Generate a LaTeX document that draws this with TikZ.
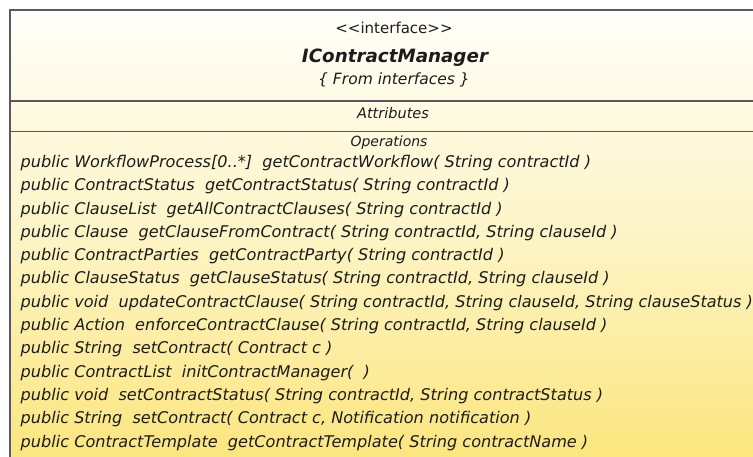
\documentclass[tikz,border=0pt]{standalone}
\usepackage{fontspec}
\setmainfont{DejaVu Sans}
\definecolor{boxtop}{HTML}{FFFEFA}
\definecolor{boxmid}{HTML}{FDF4C4}
\definecolor{boxbot}{HTML}{FBE57A}
\definecolor{rule}{HTML}{5A5A5A}
\definecolor{ink}{HTML}{1C1C1C}
\begin{document}
\begin{tikzpicture}[x=1pt,y=-1pt,
  frame/.style={draw=rule,line width=1.1pt},
  optext/.style={anchor=base west,inner sep=0pt,text=ink,font=\fontsize{16.1}{17}\selectfont\itshape},
  headtext/.style={anchor=base,inner sep=0pt,text=ink}]
\useasboundingbox (0,0) rectangle (753,457);
\clip (0,0) rectangle (753,457);
% class box with its gradient fill
\shade[top color=boxtop, bottom color=boxbot, middle color=boxmid] (10,10) rectangle (790,470);
\draw[frame] (10,475) -- (10,10) -- (790,10);
\draw[frame] (10,101) -- (790,101);
\draw[frame] (10,131.5) -- (790,131.5);
% name compartment
\node[headtext,font=\fontsize{15}{17}\selectfont] (stereo) at (394,33.5) {<{}<interface>{}>};
\node[headtext,font=\fontsize{18.3}{20}\selectfont\bfseries\itshape] (name) at (395,62.5) {IContractManager};
\node[headtext,font=\fontsize{15.5}{17}\selectfont\itshape] (origin) at (394,85) {\{ From interfaces \}};
% attributes compartment
\node[headtext,font=\fontsize{14.5}{16}\selectfont\itshape] (attrs) at (393,119) {Attributes};
% operations compartment
\node[headtext,font=\fontsize{14}{16}\selectfont\itshape] (ops) at (389,147) {Operations};
\node[optext] (op1) at (20.5,167.5) {public WorkflowProcess[0..*]\ \ getContractWorkflow( String contractId )};
\node[optext] (op2) at (20.5,190.8) {public ContractStatus\ \ getContractStatus( String contractId )};
\node[optext] (op3) at (20.5,214.1) {public ClauseList\ \ getAllContractClauses( String contractId )};
\node[optext] (op4) at (20.5,237.4) {public Clause\ \ getClauseFromContract( String contractId, String clauseId )};
\node[optext] (op5) at (20.5,260.7) {public ContractParties\ \ getContractParty( String contractId )};
\node[optext] (op6) at (20.5,284.0) {public ClauseStatus\ \ getClauseStatus( String contractId, String clauseId )};
\node[optext] (op7) at (20.5,307.3) {public void\ \ updateContractClause( String contractId, String clauseId, String clauseStatus )};
\node[optext] (op8) at (20.5,330.6) {public Action\ \ enforceContractClause( String contractId, String clauseId )};
\node[optext] (op9) at (20.5,353.9) {public String\ \ setContract( Contract c )};
\node[optext] (op10) at (20.5,377.2) {public ContractList\ \ initContractManager( \ )};
\node[optext] (op11) at (20.5,400.5) {public void\ \ setContractStatus( String contractId, String contractStatus )};
\node[optext] (op12) at (20.5,423.8) {public String\ \ setContract( Contract c, Notification notification )};
\node[optext] (op13) at (20.5,447.1) {public ContractTemplate\ \ getContractTemplate( String contractName )};
\end{tikzpicture}
\end{document}
